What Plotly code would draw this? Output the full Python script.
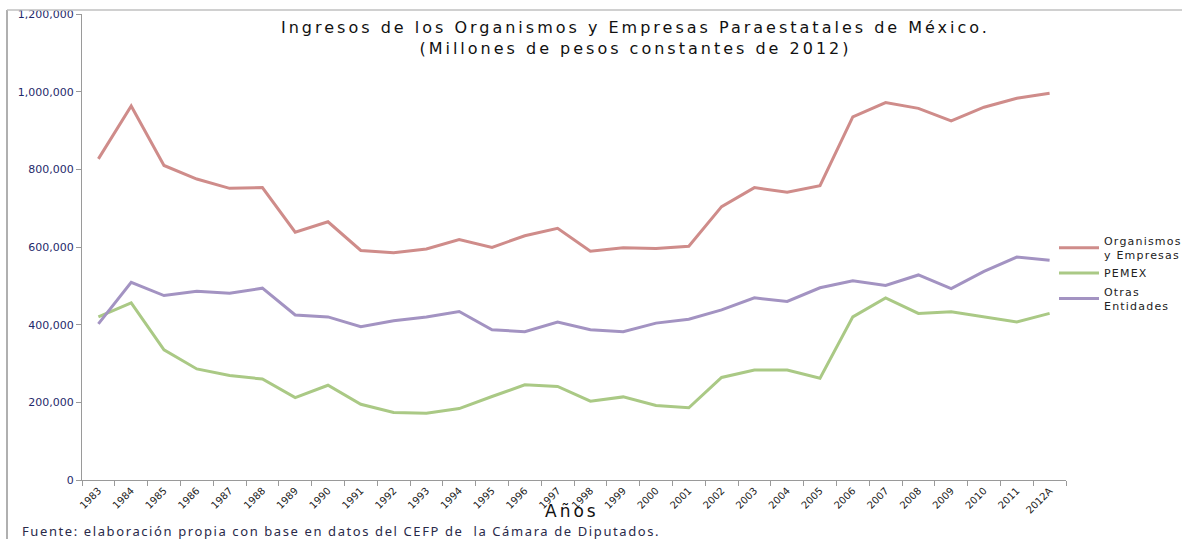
import plotly.graph_objects as go

# categorias (eje X)
years = ["1983", "1984", "1985", "1986", "1987", "1988", "1989", "1990", "1991", "1992",
         "1993", "1994", "1995", "1996", "1997", "1998", "1999", "2000", "2001", "2002",
         "2003", "2004", "2005", "2006", "2007", "2008", "2009", "2010", "2011", "2012A"]

# millones de pesos constantes de 2012
organismos = [827000, 963000, 810000, 775000, 751000, 753000, 638000, 665000, 591000, 585000,
              595000, 619000, 599000, 629000, 648000, 589000, 598000, 596000, 602000, 704000,
              753000, 741000, 758000, 935000, 972000, 957000, 925000, 960000, 983000, 996000]
pemex = [420000, 456000, 335000, 286000, 269000, 260000, 212000, 244000, 195000, 174000,
         172000, 184000, 215000, 245000, 241000, 203000, 214000, 192000, 186000, 264000,
         283000, 283000, 262000, 420000, 469000, 429000, 433000, 420000, 407000, 429000]
otras = [402000, 509000, 475000, 486000, 481000, 494000, 425000, 420000, 395000, 410000,
         420000, 434000, 387000, 382000, 407000, 387000, 382000, 404000, 414000, 438000,
         469000, 460000, 495000, 513000, 501000, 528000, 493000, 537000, 574000, 566000]

names = ["Organismos<br>y Empresas", "PEMEX", "Otras<br>Entidades"]
colors = ["#cf8c8a", "#aac985", "#a393c2"]


def spaced(text, sp):
    # Excel-like wide letter spacing
    return "<br>".join(f'<span style="letter-spacing:{sp}px">{part}</span>' for part in text.split("<br>"))


fig = go.Figure()
for name, vals, color in zip(names, [organismos, pemex, otras], colors):
    fig.add_trace(go.Scatter(
        x=years, y=vals, mode="lines", name=spaced(name, 1.2),
        line=dict(color=color, width=3)
    ))

# plot area in pixels: x 82..1066, y 14..480
W, H = 1182, 539
L, R, T, B = 82, 116, 14, 59
pw, ph = W - L - R, H - T - B


def px(x):
    return (x - L) / pw


def py(y):
    return (H - B - y) / ph


fig.update_layout(
    width=W, height=H,
    margin=dict(l=L, r=R, t=T, b=B, autoexpand=False),
    paper_bgcolor="white", plot_bgcolor="white",
    font=dict(family="DejaVu Sans, Liberation Sans", color="#222"),
    showlegend=True,
    legend=dict(
        x=px(1054), xanchor="left", y=py(227), yanchor="top",
        font=dict(size=11, color="#222"),
        itemwidth=40, tracegroupgap=2,
        bgcolor="rgba(0,0,0,0)"
    ),
)

fig.update_xaxes(
    type="category", range=[-0.5, len(years) - 0.5],
    showline=True, linecolor="#9a9a9a", linewidth=1,
    ticks="outside", tickson="boundaries", ticklen=5, tickcolor="#9a9a9a",
    tickangle=-45, tickfont=dict(size=10, color="#222"),
    showgrid=False, zeroline=False,
)
fig.update_yaxes(
    range=[0, 1200000], dtick=200000, tickformat=",",
    showline=True, linecolor="#9a9a9a", linewidth=1,
    ticks="outside", ticklen=5, tickcolor="#9a9a9a",
    tickfont=dict(size=11, color="#1f2a6b"),
    showgrid=False, zeroline=False,
)

# title
fig.add_annotation(
    text=spaced("Ingresos de los Organismos y Empresas Paraestatales de México.<br>(Millones de pesos constantes de 2012)", 3),
    xref="paper", yref="paper", x=px(635), y=py(16), xanchor="center", yanchor="top",
    showarrow=False, font=dict(size=16, color="#111")
)
# x axis title
fig.add_annotation(
    text=spaced("Años", 3), xref="paper", yref="paper", x=px(572), y=py(511), yanchor="middle",
    showarrow=False, font=dict(size=17, color="#111")
)
# fuente
fig.add_annotation(
    text=spaced("Fuente: elaboración propia con base en datos del CEFP de&nbsp; la Cámara de Diputados.", 1.6),
    xref="paper", yref="paper", x=px(20), y=py(531), xanchor="left", yanchor="middle",
    showarrow=False, font=dict(size=13, color="#2a2a4a", family="Noto Sans, Liberation Sans")
)

# chart-area frame (left and top edges)
fig.add_shape(type="line", xref="paper", yref="paper",
              x0=px(7), x1=px(7), y0=py(10), y1=py(539),
              line=dict(color="#b0b0b0", width=2))
fig.add_shape(type="line", xref="paper", yref="paper",
              x0=px(7), x1=px(1182), y0=py(10), y1=py(10),
              line=dict(color="#c0c0c0", width=1.5))

fig.write_html("out.html", config={"displayModeBar": False},
               post_script="document.body.style.margin='0';")
